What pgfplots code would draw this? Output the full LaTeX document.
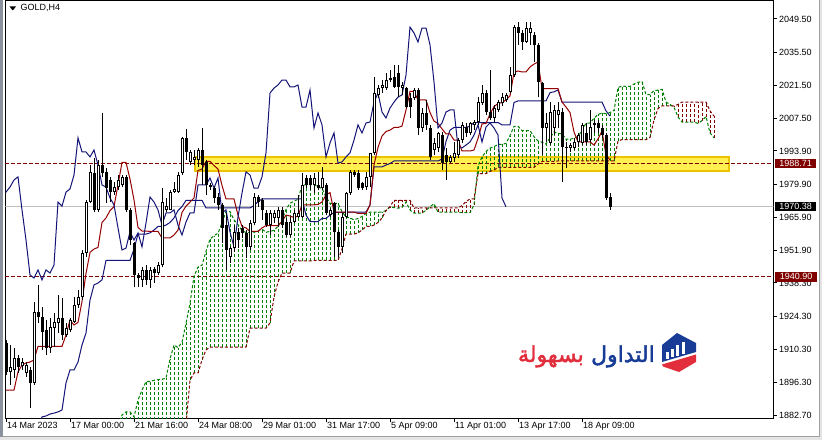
\documentclass[border=0pt]{standalone}
\usepackage{pgfplots}
\pgfplotsset{compat=1.18}
\usepackage{pgfplotstable}
\usepackage{fontspec}
\setmainfont{Liberation Sans}
\newfontfamily\arabicfont[Script=Arabic,FakeBold=2]{DejaVu Sans}
\TeXXeTstate=1

\definecolor{mtmaroon}{RGB}{128,0,0}
\definecolor{mtred}{RGB}{150,0,0}
\definecolor{mtnavy}{RGB}{20,20,120}
\definecolor{mtgreen}{RGB}{0,128,0}
\definecolor{mtgray}{RGB}{192,192,192}
\definecolor{boxfill}{RGB}{255,240,80}
\definecolor{boxdraw}{RGB}{235,195,0}
\definecolor{logoblue}{RGB}{25,60,150}
\definecolor{logored}{RGB}{225,45,60}
\definecolor{winside}{RGB}{140,145,160}
\definecolor{winbg}{RGB}{228,228,228}
\definecolor{winline}{RGB}{160,160,160}

% GOLD H4 candles: bar index, open, high, low, close
\pgfplotstableread{
i o h l c
1 1913.0 1914.3 1899.6 1900.8
2 1900.8 1912.2 1895.3 1902.9
3 1901.7 1910.9 1898.3 1906.7
4 1906.7 1908.0 1900.4 1902.9
5 1903.3 1906.7 1901.7 1905.0
6 1900.4 1905.0 1898.7 1903.8
7 1901.7 1902.9 1885.7 1896.2
8 1896.2 1930.3 1895.3 1926.1
9 1926.1 1937.5 1921.5 1924.0
10 1924.0 1928.2 1910.1 1917.7
11 1918.5 1922.7 1908.0 1910.9
12 1910.9 1923.6 1908.8 1919.8
13 1919.4 1925.7 1911.3 1921.9
14 1921.5 1933.3 1917.2 1923.6
15 1923.6 1932.0 1914.3 1916.4
16 1916.4 1921.5 1915.6 1919.4
17 1918.5 1923.6 1917.7 1922.7
18 1921.9 1932.4 1921.5 1929.0
19 1929.0 1935.4 1927.8 1932.4
20 1932.4 1952.2 1931.1 1950.9
21 1950.9 1973.3 1949.3 1972.4
22 1972.4 1988.0 1972.0 1985.1
23 1984.6 1991.0 1968.2 1969.1
24 1969.1 1990.1 1968.2 1988.0
25 1988.0 2009.9 1983.0 1984.6
26 1985.1 1986.7 1972.0 1978.3
27 1981.7 1983.0 1972.4 1976.6
28 1976.6 1980.8 1975.4 1978.7
29 1978.7 1983.8 1977.5 1981.7
30 1979.6 1983.8 1978.7 1983.0
31 1983.0 1983.8 1968.2 1969.1
32 1969.1 1969.9 1954.3 1956.4
33 1955.2 1955.6 1936.6 1941.7
34 1941.7 1942.5 1936.6 1940.4
35 1939.6 1945.0 1936.6 1943.8
36 1943.8 1945.9 1937.5 1939.6
37 1939.6 1945.0 1936.2 1943.8
38 1944.2 1945.0 1938.3 1942.5
39 1942.5 1947.1 1941.7 1945.9
40 1945.9 1978.3 1945.0 1972.4
41 1969.1 1974.1 1968.2 1970.7
42 1969.1 1977.5 1969.1 1976.6
43 1976.6 1980.8 1976.2 1977.9
44 1976.6 1985.1 1976.2 1983.8
45 1984.6 1999.8 1983.8 1999.4
46 1999.4 2003.2 1990.1 1993.5
47 1989.3 1994.3 1988.0 1993.5
48 1990.1 1994.3 1988.0 1991.4
49 1990.1 1995.2 1987.2 1994.3
50 1994.3 2003.6 1979.6 1988.0
51 1989.3 1990.1 1975.4 1979.6
52 1979.6 1980.4 1977.5 1978.7
53 1978.3 1979.2 1972.0 1974.1
54 1974.5 1976.2 1969.1 1971.2
55 1971.2 1972.0 1955.2 1961.5
56 1962.7 1967.8 1943.8 1952.2
57 1949.3 1953.9 1946.7 1953.0
58 1953.0 1962.7 1951.4 1959.8
59 1959.8 1961.5 1953.0 1956.4
60 1961.5 1962.7 1957.3 1959.4
61 1959.4 1960.6 1948.8 1953.5
62 1953.5 1964.8 1952.2 1963.6
63 1963.6 1976.2 1962.7 1974.5
64 1974.5 1975.4 1970.3 1972.4
65 1973.3 1974.1 1964.8 1969.1
66 1967.8 1969.1 1961.9 1962.7
67 1962.7 1969.1 1958.5 1967.8
68 1965.7 1969.1 1963.6 1967.8
69 1965.7 1970.3 1961.9 1969.1
70 1969.1 1970.3 1961.5 1962.7
71 1964.0 1965.7 1957.7 1958.5
72 1958.5 1966.1 1957.7 1964.0
73 1964.0 1969.1 1963.6 1967.8
74 1966.1 1975.4 1965.7 1967.8
75 1966.1 1984.6 1965.7 1979.6
76 1982.5 1983.8 1978.3 1979.6
77 1982.5 1983.8 1977.5 1979.6
78 1979.6 1984.6 1976.2 1982.5
79 1979.6 1985.1 1977.5 1978.3
80 1978.3 1987.2 1977.5 1982.5
81 1979.6 1980.4 1966.9 1967.8
82 1966.9 1969.9 1966.1 1969.1
83 1972.0 1972.4 1949.3 1959.8
84 1959.8 1960.6 1949.3 1953.5
85 1953.5 1967.8 1950.9 1966.1
86 1966.1 1976.6 1965.7 1976.2
87 1976.2 1985.9 1975.4 1985.1
88 1985.1 1985.9 1983.0 1983.8
89 1984.6 1985.9 1977.5 1978.3
90 1980.4 1980.8 1977.5 1978.3
91 1978.7 1985.1 1977.5 1983.0
92 1983.0 1993.1 1978.7 1993.1
93 1993.1 2025.1 1992.2 2018.3
94 2017.5 2021.7 2016.2 2020.4
95 2020.4 2023.8 2018.3 2021.7
96 2020.4 2026.8 2019.6 2023.8
97 2024.6 2028.0 2023.0 2023.8
98 2025.1 2030.1 2020.4 2020.9
99 2026.8 2030.1 2016.6 2020.9
100 2020.4 2023.0 2017.5 2021.7
101 2020.4 2020.9 2012.0 2012.4
102 2016.2 2018.3 2007.8 2012.4
103 2016.2 2020.4 2015.4 2019.6
104 2019.6 2020.4 2000.6 2003.6
105 2003.6 2012.0 2001.9 2009.9
106 2009.9 2015.4 2002.7 2004.9
107 2003.6 2004.9 1990.1 1991.4
108 1994.3 1999.4 1992.2 1997.3
109 1995.2 2001.9 1993.5 2001.5
110 2000.6 2001.9 1985.9 1988.8
111 1992.2 1995.2 1981.7 1989.3
112 1989.3 1992.2 1988.8 1991.4
113 1991.0 1997.7 1989.3 1993.1
114 1992.2 1999.4 1991.0 1998.5
115 1998.5 2006.1 1997.3 2004.9
116 2004.0 2005.7 1999.8 2001.5
117 2001.5 2006.1 2000.6 2005.7
118 2004.9 2007.0 2002.7 2006.1
119 2006.1 2016.6 2004.9 2014.5
120 2014.1 2021.7 2013.3 2018.3
121 2018.3 2019.6 2009.1 2010.3
122 2010.3 2028.0 2007.0 2007.8
123 2007.8 2013.3 2006.1 2012.0
124 2011.2 2015.4 2010.3 2014.5
125 2014.1 2018.3 2012.9 2016.6
126 2015.4 2018.3 2014.5 2017.5
127 2018.8 2029.3 2018.3 2025.9
128 2025.9 2047.0 2025.1 2046.1
129 2046.1 2048.2 2038.6 2043.6
130 2043.6 2044.9 2036.4 2039.8
131 2039.8 2048.2 2039.4 2045.7
132 2043.6 2048.2 2038.6 2045.7
133 2042.8 2044.0 2031.4 2038.6
134 2038.6 2039.4 2016.6 2023.0
135 2022.5 2023.0 1992.2 2003.6
136 2003.6 2009.9 1997.7 2005.7
137 1997.3 2014.5 1996.4 2010.3
138 2003.6 2013.3 2000.6 2011.2
139 2009.1 2014.5 2003.6 2011.2
140 2010.3 2012.0 1980.8 1995.6
141 1995.6 1997.7 1986.7 1995.2
142 1995.2 1997.3 1993.5 1996.4
143 1995.2 1999.4 1994.3 1997.7
144 1997.7 2001.5 1995.6 2000.6
145 1997.3 2005.7 1996.4 2004.9
146 2001.5 2005.7 1996.4 1997.7
147 1998.5 2011.2 1997.7 2004.0
148 2004.9 2007.0 2001.5 2005.7
149 2005.7 2007.0 2001.5 2003.6
150 2003.6 2004.9 1999.4 2000.6
151 2000.6 2001.5 1973.3 1974.1
152 1974.5 1976.2 1969.1 1970.38
}\candles

% Tenkan-sen
\pgfplotstableread{
x y
1 1893.2
3 1893.2
4 1900.8
5 1903.8
6 1904.6
7 1905.0
8 1905.9
9 1911.6
15 1911.6
16 1916.4
17 1922.7
18 1920.6
19 1921.7
20 1930.5
21 1942.3
22 1951.2
23 1952.6
24 1953.3
25 1963.8
26 1965.7
27 1968.8
28 1970.5
29 1979.6
30 1989.1
31 1989.1
32 1982.1
33 1973.3
34 1961.7
35 1960.2
36 1960.2
37 1960.0
39 1960.0
40 1957.3
42 1957.3
43 1958.5
44 1960.6
45 1968.0
46 1970.7
47 1972.4
48 1974.1
49 1985.7
50 1986.3
51 1989.5
52 1989.5
53 1987.8
54 1986.3
55 1979.4
56 1973.7
58 1973.7
59 1966.9
60 1962.1
61 1961.5
62 1960.0
64 1960.0
65 1961.5
66 1962.5
69 1962.5
70 1964.2
71 1966.9
72 1966.5
73 1965.9
74 1966.5
75 1971.2
78 1971.2
79 1971.4
80 1972.4
81 1975.4
82 1976.4
83 1968.2
88 1968.2
89 1967.6
91 1967.6
92 1971.2
93 1988.0
94 1995.4
95 2000.2
96 2002.1
97 2002.7
98 2003.8
99 2003.8
100 2004.4
101 2011.2
102 2019.0
103 2019.0
104 2015.4
106 2015.4
107 2010.1
108 2006.5
109 2005.5
110 2003.2
111 2001.1
112 2001.1
113 1998.5
114 1998.5
115 1993.9
117 1993.9
118 1994.3
119 1999.2
120 2005.3
121 2005.5
122 2009.5
123 2012.6
124 2013.9
125 2014.3
126 2015.4
127 2017.1
128 2027.0
129 2027.6
130 2027.2
131 2027.2
132 2029.3
133 2030.5
134 2031.4
135 2020.2
139 2020.2
140 2014.5
141 2012.4
142 2010.1
143 2001.9
144 1997.7
147 1997.7
148 1996.4
149 1999.0
150 2002.3
151 1992.2
152 1990.1
}\tenkan

% Kijun-sen
\pgfplotstableread{
x y
9 1876.4
10 1881.9
11 1882.3
12 1883.1
13 1883.5
14 1884.0
15 1884.8
16 1896.2
17 1901.7
18 1901.7
19 1905.0
20 1912.2
21 1917.2
22 1931.1
23 1937.5
24 1938.3
25 1939.6
26 1947.8
32 1947.8
33 1952.6
34 1958.9
36 1958.9
37 1959.4
38 1960.6
39 1962.1
40 1962.1
41 1962.7
42 1963.8
43 1965.7
44 1968.8
45 1970.5
46 1973.1
50 1973.1
51 1969.9
62 1969.9
63 1970.9
64 1972.6
65 1973.7
75 1973.7
76 1966.9
77 1964.2
79 1964.2
80 1965.5
81 1965.5
82 1966.9
83 1968.0
86 1968.0
87 1968.2
91 1968.2
92 1971.2
93 1987.2
95 1987.2
96 1988.0
97 1988.6
98 1989.7
109 1989.7
110 1990.5
111 1997.9
112 2002.7
113 2003.8
116 2003.8
117 2004.4
118 2005.9
124 2005.9
125 2004.9
127 2004.9
128 2014.3
129 2015.0
136 2015.0
137 2018.5
138 2018.8
139 2019.6
140 2014.5
150 2014.5
151 2010.8
152 2008.6
}\kijun

% Senkou span A (a) and B (b), one row per bar
\pgfplotstableread{
x a b
28 1872.2 1872.2
29 1878.5 1872.2
30 1882.7 1872.2
31 1884.0 1872.2
32 1884.0 1872.2
33 1881.9 1872.2
34 1889.0 1872.2
35 1893.2 1872.2
36 1896.7 1872.2
37 1896.9 1872.2
38 1897.3 1872.2
39 1897.6 1872.2
40 1897.8 1872.2
41 1898.2 1872.2
42 1906.3 1872.2
43 1912.2 1872.2
44 1911.1 1872.2
45 1913.3 1872.2
46 1921.3 1878.5
47 1929.8 1897.4
48 1941.1 1900.4
49 1945.0 1900.4
50 1945.8 1905.9
51 1951.7 1910.1
52 1956.7 1911.3
53 1958.3 1911.3
54 1959.2 1911.3
55 1963.7 1911.3
56 1968.4 1911.3
57 1968.4 1911.3
58 1964.9 1911.3
59 1962.9 1911.3
60 1960.3 1911.3
61 1959.6 1911.3
62 1959.6 1919.3
63 1959.7 1919.3
64 1960.3 1919.3
65 1961.0 1919.3
66 1959.7 1919.3
67 1960.0 1921.5
68 1960.5 1932.4
69 1962.1 1938.7
70 1964.7 1942.5
71 1969.3 1942.5
72 1971.9 1942.5
73 1972.7 1947.6
74 1973.6 1947.6
75 1979.4 1947.6
76 1979.7 1947.6
77 1979.7 1947.6
78 1979.7 1947.8
79 1978.8 1947.8
80 1978.1 1947.8
81 1974.6 1947.8
82 1971.8 1947.8
83 1971.8 1947.8
84 1971.8 1947.8
85 1968.4 1952.6
86 1966.0 1958.9
87 1965.7 1958.9
88 1964.9 1958.9
89 1965.5 1959.4
90 1966.3 1960.6
91 1967.6 1962.1
92 1968.1 1962.1
93 1968.1 1962.7
94 1968.1 1963.8
95 1968.1 1965.7
96 1968.9 1968.8
97 1970.3 1970.5
98 1970.1 1973.1
99 1969.8 1973.1
100 1970.1 1973.1
101 1972.4 1973.1
102 1969.0 1973.1
103 1967.7 1969.9
104 1967.7 1969.9
105 1967.8 1969.9
106 1968.9 1969.9
107 1970.4 1969.9
108 1971.7 1969.9
109 1968.1 1969.9
110 1968.1 1969.9
111 1968.1 1969.9
112 1968.1 1969.9
113 1968.2 1969.9
114 1968.2 1969.9
115 1967.9 1970.9
116 1967.9 1972.6
117 1967.9 1973.7
118 1971.2 1973.7
119 1987.6 1984.4
120 1991.4 1984.4
121 1993.7 1984.4
122 1995.1 1985.3
123 1995.7 1985.9
124 1996.7 1987.0
125 1996.7 1987.0
126 1997.1 1987.0
127 2000.4 1987.0
128 2004.3 1987.0
129 2004.3 1987.0
130 2002.5 1987.0
131 2002.5 1987.0
132 2002.5 1987.0
133 1999.9 1987.0
134 1998.1 1988.4
135 1997.6 1989.5
136 1996.8 1989.5
137 1999.5 1989.5
138 2001.9 1989.5
139 2001.2 1989.7
140 2001.2 1989.7
141 1998.9 1989.7
142 1998.9 1989.7
143 1999.2 1989.7
144 2000.1 1989.7
145 2002.5 1989.7
146 2005.6 1989.7
147 2005.7 1989.7
148 2007.7 1989.7
149 2009.3 1989.7
150 2009.9 1989.7
151 2009.6 1989.7
152 2010.1 1989.7
153 2011.0 1989.7
154 2020.6 1998.1
155 2021.3 1998.7
156 2021.1 1998.7
157 2021.1 1998.7
158 2022.1 1998.7
159 2022.8 1998.7
160 2023.2 1998.7
161 2017.6 1998.7
162 2017.6 1999.6
163 2019.4 2007.0
164 2019.5 2011.8
165 2019.9 2012.9
166 2014.5 2012.9
167 2013.5 2012.9
168 2012.3 2012.9
169 2008.2 2013.5
170 2006.1 2014.5
171 2006.1 2014.5
172 2006.1 2014.5
173 2006.1 2014.5
174 2005.5 2014.5
175 2006.7 2014.5
176 2008.4 2014.5
177 2001.5 2010.8
178 1999.4 2008.6
}\cloud

\begin{document}
\begin{tikzpicture}[x=1bp,y=1bp]
\useasboundingbox (0,0) rectangle (822,440);
\fill[white] (0,0) rectangle (822,440);
% window frame decorations
\fill[winside] (0,0) rectangle (2.5,440);
\fill[winbg] (0,0) rectangle (822,3);
\fill[winbg] (819.5,0) rectangle (822,440);
\draw[winline, line width=0.8bp] (819.5,3) -- (819.5,440);
\draw[winline, line width=0.8bp] (2.5,3.2) -- (819.5,3.2);

\begin{axis}[
  at={(5.3bp,21bp)}, anchor=south west,
  scale only axis, width=768bp, height=418bp,
  xmin=0.825, xmax=192.825, ymin=1881.02, ymax=2057.08,
  axis line style={black, line width=1bp},
  tick align=outside, major tick length=3.5bp,
  tick style={black, line width=1bp},
  xtick pos=bottom, ytick pos=right, yticklabel pos=right,
  xtick={1,17,33,49,65,81,97,113,129,145},
  xticklabels={14 Mar 2023,17 Mar 00:00,21 Mar 16:00,24 Mar 08:00,29 Mar 01:00,31 Mar 17:00,5 Apr 09:00,11 Apr 01:00,13 Apr 17:00,18 Apr 09:00},
  ytick={2049.5,2035.5,2021.5,2007.5,1993.9,1979.9,1965.9,1951.9,1938.3,1924.3,1910.3,1896.3,1882.7},
  yticklabels={2049.50,2035.50,2021.50,2007.50,1993.90,1979.90,1965.90,1951.90,1938.30,1924.30,1910.30,1896.30,1882.70},
  ticklabel style={font=\fontsize{9bp}{10bp}\selectfont, inner sep=0pt},
  xticklabel style={anchor=north west, xshift=1bp},
  yticklabel style={anchor=west, xshift=2bp},
]
% current price line
\addplot [mtgray, line width=1bp, forget plot] coordinates {(0.8,1970.38) (192.9,1970.38)};
% support / resistance zone
\addplot [fill=boxfill, draw=boxdraw, line width=1.3bp, forget plot] coordinates {(48.25,1991.4) (181.75,1991.4) (181.75,1985.5) (48.25,1985.5) (48.25,1991.4)};
% levels
\addplot [mtmaroon, line width=1bp, dash pattern=on 3.5bp off 2.5bp, forget plot] coordinates {(0.8,1988.71) (192.9,1988.71)};
\addplot [mtmaroon, line width=1bp, dash pattern=on 3.5bp off 2.5bp, forget plot] coordinates {(0.8,1940.90) (192.9,1940.90)};

% Ichimoku cloud hatch: bullish (A above B) green, bearish maroon
\addplot [color=mtgreen, draw=none, mark=none, forget plot,
  error bars/.cd, y dir=plus, y explicit, error mark=none,
  error bar style={color=mtgreen, line width=1bp, dash pattern=on 3bp off 2bp}]
  table [x=x, y=b, y error expr={max(\thisrow{a}-\thisrow{b},0)}] {\cloud};
\addplot [color=mtmaroon, draw=none, mark=none, forget plot,
  error bars/.cd, y dir=plus, y explicit, error mark=none,
  error bar style={color=mtmaroon, line width=1bp, dash pattern=on 3bp off 2bp}]
  table [x=x, y=a, y error expr={max(\thisrow{b}-\thisrow{a},0)}] {\cloud};
% Senkou span lines
\addplot [mtgreen, line width=1bp, dash pattern=on 3bp off 2bp] table [x=x, y=a] {\cloud};
\addplot [mtmaroon, line width=1bp, dash pattern=on 3bp off 2bp] table [x=x, y=b] {\cloud};

% Kijun, Tenkan, Chikou
\addplot [mtnavy, line width=1bp] table {\kijun};
\addplot [mtred, line width=1bp] table {\tenkan};
\addplot [mtnavy, line width=1bp] table [x expr=\thisrow{i}-26, y=c] {\candles};

% candles: wicks
\addplot [color=black, draw=none, mark=none, forget plot,
  error bars/.cd, y dir=plus, y explicit, error mark=none,
  error bar style={color=black, line width=1bp, solid}]
  table [x=i, y=l, y error expr=\thisrow{h}-\thisrow{l}] {\candles};
% bodies
\addplot [color=black, draw=none, mark=none, forget plot,
  error bars/.cd, y dir=plus, y explicit, error mark=none,
  error bar style={color=black, line width=3bp, solid}]
  table [x=i, y expr={min(\thisrow{o},\thisrow{c})}, y error expr={max(abs(\thisrow{c}-\thisrow{o}),0.45)}] {\candles};
% bull interiors
\addplot [color=white, draw=none, mark=none, forget plot,
  error bars/.cd, y dir=plus, y explicit, error mark=none,
  error bar style={color=white, line width=1bp, solid}]
  table [x=i, y expr={\thisrow{o}+0.42}, y error expr={max(\thisrow{c}-\thisrow{o}-0.84,0)}] {\candles};
\end{axis}

% price labels on the right scale
\node[fill=mtmaroon, text=white, anchor=west, inner sep=0pt, minimum width=41bp, minimum height=9bp, font=\fontsize{9bp}{10bp}\selectfont] at (775,276.7) {1988.71};
\node[fill=black, text=white, anchor=west, inner sep=0pt, minimum width=41bp, minimum height=9bp, font=\fontsize{9bp}{10bp}\selectfont] at (775,233.2) {1970.38};
\node[fill=mtmaroon, text=white, anchor=west, inner sep=0pt, minimum width=42bp, minimum height=10bp, font=\fontsize{9bp}{10bp}\selectfont] at (775,163.2) {1940.90};

% title
\fill[black] (9.5,433.5) -- (16,433.5) -- (12.75,429.5) -- cycle;
\node[anchor=west, inner sep=0pt, text=black, font=\fontsize{9bp}{10bp}\selectfont] at (20.5,431.6) {GOLD,H4};

% watermark
\node[anchor=base east, inner sep=0pt, text=logoblue, font=\arabicfont\fontsize{22bp}{24bp}\selectfont] at (655,78) {\beginR التداول\endR};
\node[anchor=base east, inner sep=0pt, text=logored, font=\arabicfont\fontsize{22bp}{24bp}\selectfont] at (584,78) {\beginR بسهولة\endR};
\fill[logoblue] (662,95) -- (677,107) -- (696,97) -- (696,88) -- (662,78) -- cycle;
\fill[logored] (662,75.5) -- (696,85.5) -- (696,78) -- (679,68) -- (663,73.5) -- cycle;
\fill[white] (666,81) rectangle (669,88);
\fill[white] (671,82.5) rectangle (674,91);
\fill[white] (676,84) rectangle (679,95);
\fill[white] (682,86) rectangle (685,98);
\end{tikzpicture}
\end{document}
